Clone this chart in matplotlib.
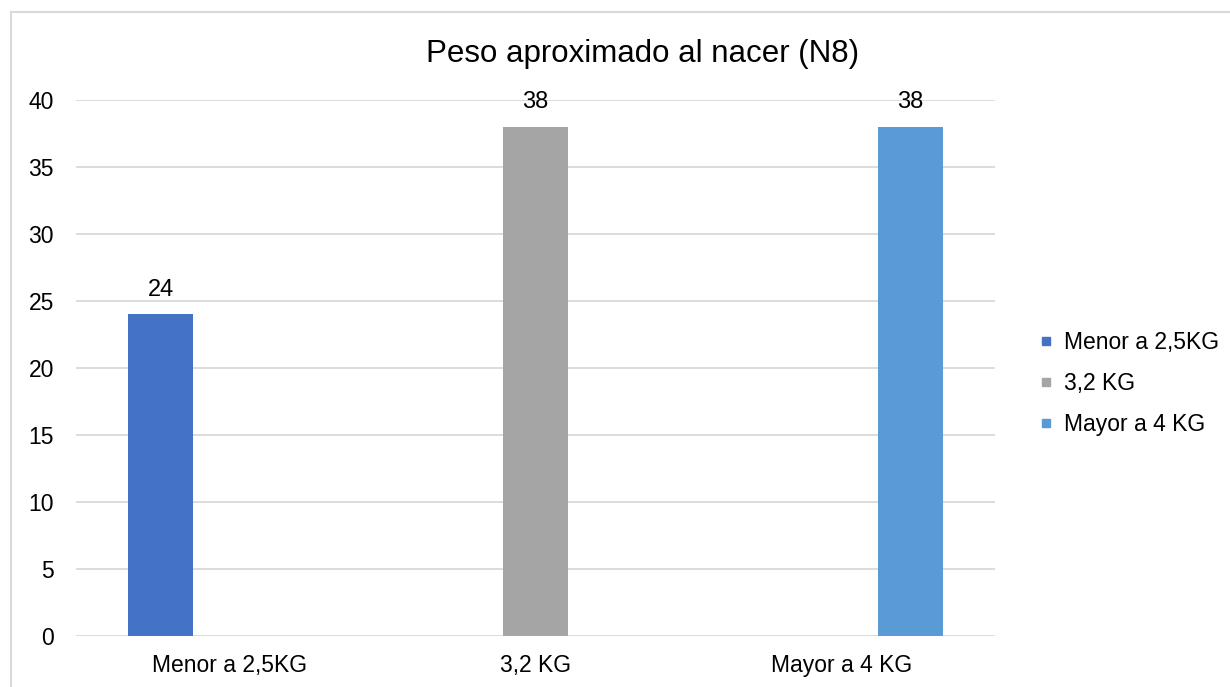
import matplotlib
matplotlib.use("Agg")
import matplotlib.pyplot as plt
from matplotlib.lines import Line2D
import numpy as np

plt.rcParams['font.family'] = ['Liberation Sans', 'DejaVu Sans']

categories = ["Menor a 2,5KG", "3,2 KG", "Mayor a 4 KG"]
series_names = ["Menor a 2,5KG", "3,2 KG", "Mayor a 4 KG"]
menor_values = [24, None, None]
medio_values = [None, 38, None]
mayor_values = [None, None, 38]
series_values = [menor_values, medio_values, mayor_values]
colors = ["#4472C4", "#A5A5A5", "#5B9BD5"]
title = "Peso aproximado al nacer (N8)"
yticks = [0, 5, 10, 15, 20, 25, 30, 35, 40]

W, H = 1230, 687
fig = plt.figure(figsize=(W / 100, H / 100), dpi=100)
ax = fig.add_axes([76 / W, 1 - 636 / H, (995 - 76) / W, (636 - 100) / H])

x = np.arange(len(categories))
offsets = [-0.224, 0.0, 0.224]
width = 0.212
for vals, off, col, name in zip(series_values, offsets, colors, series_names):
    xs = [xi + off for xi, v in zip(x, vals) if v is not None]
    hs = [v for v in vals if v is not None]
    bars = ax.bar(xs, hs, width=width, color=col, label=name, zorder=3)
    for b, v in zip(bars, hs):
        ax.annotate(f"{v}", (b.get_x() + b.get_width() / 2, b.get_height()),
                    xytext=(0, 13.5), textcoords="offset points",
                    ha="center", va="baseline", fontsize=17, color="#000000")

ax.set_xlim(-0.5, len(categories) - 0.5)
ax.set_ylim(0, 40)
ax.set_yticks(yticks)
ax.set_xticks(x)
ax.set_xticklabels(categories, fontsize=16.5)
ax.tick_params(axis="y", labelsize=16.5, length=0, pad=16)
ax.tick_params(axis="x", length=0, pad=13)
ax.grid(axis="y", color="#D9D9D9", linewidth=1.3, zorder=0)
for s in ax.spines.values():
    s.set_visible(False)

fig.text(643 / W, 1 - 54 / H, title, ha="center", va="center", fontsize=22.5)

handles = [Line2D([], [], marker="s", linestyle="none", color=c, markersize=6)
           for c in colors]
fig.legend(handles, series_names, loc="upper left",
           bbox_to_anchor=(1028 / W, 1 - 320 / H), frameon=False,
           fontsize=16.5, handlelength=0.6, handletextpad=0.45,
           labelspacing=0.78, borderpad=0)

# outer chart border (top and left visible)
fig.add_artist(Line2D([11 / W, 1.0], [1 - 12 / H, 1 - 12 / H], color="#D9D9D9",
                      linewidth=1.5, transform=fig.transFigure))
fig.add_artist(Line2D([11 / W, 11 / W], [0, 1 - 12 / H], color="#D9D9D9",
                      linewidth=1.5, transform=fig.transFigure))

fig.savefig("out.png", dpi=100)
